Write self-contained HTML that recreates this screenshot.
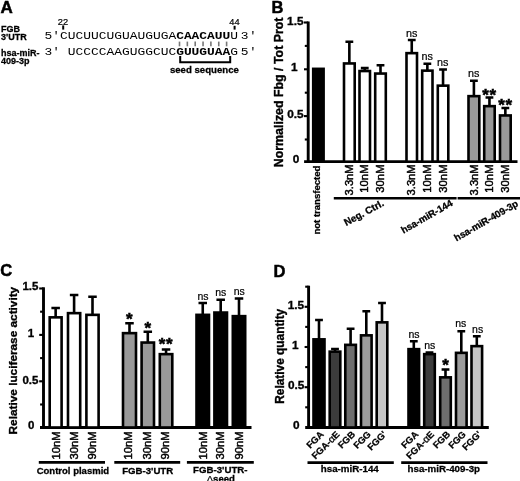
<!DOCTYPE html>
<html><head><meta charset="utf-8"><title>Figure</title>
<style>
html,body{margin:0;padding:0;background:#fff;}
body{width:520px;height:481px;overflow:hidden;}
svg{display:block;}
text{fill:#000;}
</style></head><body>
<svg width="520" height="481" viewBox="0 0 520 481">
<rect width="520" height="481" fill="#fff"/>
<text x="0.50" y="12.60" font-family='"Liberation Sans", Arial, Helvetica, sans-serif' font-size="17" font-weight="bold" text-anchor="start" stroke="#000" stroke-width="0.51">A</text>
<text x="1.00" y="31.80" font-family='"Liberation Sans", Arial, Helvetica, sans-serif' font-size="9" font-weight="bold" text-anchor="start" stroke="#000" stroke-width="0.27">FGB</text>
<text x="1.00" y="40.10" font-family='"Liberation Sans", Arial, Helvetica, sans-serif' font-size="9" font-weight="bold" text-anchor="start" stroke="#000" stroke-width="0.27">3'UTR</text>
<text x="1.00" y="55.70" font-family='"Liberation Sans", Arial, Helvetica, sans-serif' font-size="9" font-weight="bold" text-anchor="start" stroke="#000" stroke-width="0.27">hsa-miR-</text>
<text x="1.00" y="63.80" font-family='"Liberation Sans", Arial, Helvetica, sans-serif' font-size="9" font-weight="bold" text-anchor="start" stroke="#000" stroke-width="0.27">409-3p</text>
<text x="63.00" y="24.50" font-family='"Liberation Sans", Arial, Helvetica, sans-serif' font-size="9.3" font-weight="normal" text-anchor="middle" stroke="#000" stroke-width="0.2">22</text>
<text x="234.50" y="24.60" font-family='"Liberation Sans", Arial, Helvetica, sans-serif' font-size="9.3" font-weight="normal" text-anchor="middle" stroke="#000" stroke-width="0.2">44</text>
<line x1="63.20" y1="25.40" x2="63.20" y2="29.60" stroke="#000" stroke-width="2"/>
<line x1="234.60" y1="25.80" x2="234.60" y2="29.60" stroke="#000" stroke-width="2"/>
<text transform="translate(44.52 39.1) scale(1.1960 1)" x="0" y="0" font-family='"Liberation Mono", "Courier New", monospace' font-size="10.8" xml:space="preserve" fill="#111">5'CUCUUCUGUAUGUGA<tspan font-weight="bold">CAACAUU</tspan>U</text>
<text transform="translate(240.82 39.1) scale(1.1960 1)" x="0" y="0" font-family='"Liberation Mono", "Courier New", monospace' font-size="10.8" letter-spacing="0.3" xml:space="preserve" fill="#111">3'</text>
<text transform="translate(44.52 55.0) scale(1.1960 1)" x="0" y="0" font-family='"Liberation Mono", "Courier New", monospace' font-size="10.8" xml:space="preserve" fill="#111">3' UCCCCAAGUGGCUC<tspan font-weight="bold">GUUGUAA</tspan>G</text>
<text transform="translate(240.82 55.0) scale(1.1960 1)" x="0" y="0" font-family='"Liberation Mono", "Courier New", monospace' font-size="10.8" letter-spacing="0.3" xml:space="preserve" fill="#111">5'</text>
<line x1="179.50" y1="41.60" x2="179.50" y2="46.30" stroke="#777" stroke-width="1.6"/>
<line x1="187.35" y1="41.60" x2="187.35" y2="46.30" stroke="#777" stroke-width="1.6"/>
<line x1="195.20" y1="41.60" x2="195.20" y2="46.30" stroke="#777" stroke-width="1.6"/>
<line x1="203.05" y1="41.60" x2="203.05" y2="46.30" stroke="#777" stroke-width="1.6"/>
<line x1="210.90" y1="41.60" x2="210.90" y2="46.30" stroke="#777" stroke-width="1.6"/>
<line x1="218.75" y1="41.60" x2="218.75" y2="46.30" stroke="#777" stroke-width="1.6"/>
<line x1="226.60" y1="41.60" x2="226.60" y2="46.30" stroke="#777" stroke-width="1.6"/>
<path d="M180.2 56V62.3H230.2V56" stroke="#000" stroke-width="2" fill="none"/>
<text x="204.40" y="72.70" font-family='"Liberation Sans", Arial, Helvetica, sans-serif' font-size="9.5" font-weight="bold" text-anchor="middle" textLength="69" lengthAdjust="spacingAndGlyphs" stroke="#000" stroke-width="0.28">seed sequence</text>
<text x="271.60" y="12.50" font-family='"Liberation Sans", Arial, Helvetica, sans-serif' font-size="16.5" font-weight="bold" text-anchor="start" stroke="#000" stroke-width="0.49">B</text>
<line x1="308.20" y1="21.50" x2="308.20" y2="163.00" stroke="#000" stroke-width="2.9"/>
<line x1="304.10" y1="161.70" x2="517.50" y2="161.70" stroke="#000" stroke-width="2.8"/>
<line x1="304.00" y1="116.10" x2="308.20" y2="116.10" stroke="#000" stroke-width="2.1"/>
<line x1="304.00" y1="69.30" x2="308.20" y2="69.30" stroke="#000" stroke-width="2.1"/>
<line x1="304.00" y1="22.50" x2="308.20" y2="22.50" stroke="#000" stroke-width="2.1"/>
<line x1="304.80" y1="139.50" x2="308.20" y2="139.50" stroke="#000" stroke-width="2.1"/>
<line x1="304.80" y1="92.70" x2="308.20" y2="92.70" stroke="#000" stroke-width="2.1"/>
<line x1="304.80" y1="45.90" x2="308.20" y2="45.90" stroke="#000" stroke-width="2.1"/>
<text x="303.50" y="24.60" font-family='"Liberation Sans", Arial, Helvetica, sans-serif' font-size="11.8" font-weight="bold" text-anchor="end" stroke="#000" stroke-width="0.35">1.5</text>
<text x="297.60" y="70.90" font-family='"Liberation Sans", Arial, Helvetica, sans-serif' font-size="11.8" font-weight="bold" text-anchor="end" stroke="#000" stroke-width="0.35">1</text>
<text x="303.70" y="117.60" font-family='"Liberation Sans", Arial, Helvetica, sans-serif' font-size="11.8" font-weight="bold" text-anchor="end" stroke="#000" stroke-width="0.35">0.5</text>
<text x="299.30" y="163.40" font-family='"Liberation Sans", Arial, Helvetica, sans-serif' font-size="11.8" font-weight="bold" text-anchor="end" stroke="#000" stroke-width="0.35">0</text>
<text x="283.00" y="167.20" font-family='"Liberation Sans", Arial, Helvetica, sans-serif' font-size="12.4" font-weight="bold" text-anchor="start" transform="rotate(-90 283.00 167.20)" textLength="149.7" lengthAdjust="spacingAndGlyphs" stroke="#000" stroke-width="0.37">Normalized Fbg / Tot Prot</text>
<rect x="313.20" y="68.85" width="10.40" height="92.85" fill="#000" stroke="#000" stroke-width="2.6"/>
<path d="M349.35 63.30V41.70M345.45 41.70H353.25" stroke="#000" stroke-width="2.6" fill="none"/>
<rect x="344.00" y="63.45" width="10.70" height="98.25" fill="#fff" stroke="#000" stroke-width="2.6"/>
<path d="M364.75 70.90V68.10M360.85 68.10H368.65" stroke="#000" stroke-width="2.6" fill="none"/>
<rect x="359.50" y="71.05" width="10.50" height="90.65" fill="#fff" stroke="#000" stroke-width="2.6"/>
<path d="M380.50 73.40V65.30M376.60 65.30H384.40" stroke="#000" stroke-width="2.6" fill="none"/>
<rect x="375.20" y="73.55" width="10.60" height="88.15" fill="#fff" stroke="#000" stroke-width="2.6"/>
<path d="M411.75 53.00V40.00M407.85 40.00H415.65" stroke="#000" stroke-width="2.6" fill="none"/>
<rect x="406.50" y="53.15" width="10.50" height="108.55" fill="#fff" stroke="#000" stroke-width="2.6"/>
<path d="M427.35 70.50V63.70M423.45 63.70H431.25" stroke="#000" stroke-width="2.6" fill="none"/>
<rect x="422.20" y="70.65" width="10.30" height="91.05" fill="#fff" stroke="#000" stroke-width="2.6"/>
<path d="M443.05 85.50V69.50M439.15 69.50H446.95" stroke="#000" stroke-width="2.6" fill="none"/>
<rect x="437.80" y="85.65" width="10.50" height="76.05" fill="#fff" stroke="#000" stroke-width="2.6"/>
<path d="M473.90 96.00V80.70M470.00 80.70H477.80" stroke="#000" stroke-width="2.6" fill="none"/>
<rect x="468.50" y="96.15" width="10.80" height="65.55" fill="#999" stroke="#000" stroke-width="2.6"/>
<path d="M489.45 106.00V97.50M485.55 97.50H493.35" stroke="#000" stroke-width="2.6" fill="none"/>
<rect x="484.20" y="106.15" width="10.50" height="55.55" fill="#999" stroke="#000" stroke-width="2.6"/>
<path d="M505.35 115.30V108.00M501.45 108.00H509.25" stroke="#000" stroke-width="2.6" fill="none"/>
<rect x="500.00" y="115.45" width="10.70" height="46.25" fill="#999" stroke="#000" stroke-width="2.6"/>
<text x="411.60" y="36.50" font-family='"Liberation Sans", Arial, Helvetica, sans-serif' font-size="10.8" font-weight="normal" text-anchor="middle" stroke="#000" stroke-width="0.2">ns</text>
<text x="427.20" y="60.00" font-family='"Liberation Sans", Arial, Helvetica, sans-serif' font-size="10.8" font-weight="normal" text-anchor="middle" stroke="#000" stroke-width="0.2">ns</text>
<text x="442.80" y="66.00" font-family='"Liberation Sans", Arial, Helvetica, sans-serif' font-size="10.8" font-weight="normal" text-anchor="middle" stroke="#000" stroke-width="0.2">ns</text>
<text x="473.80" y="77.30" font-family='"Liberation Sans", Arial, Helvetica, sans-serif' font-size="10.8" font-weight="normal" text-anchor="middle" stroke="#000" stroke-width="0.2">ns</text>
<text x="489.50" y="100.70" font-family='"Liberation Sans", Arial, Helvetica, sans-serif' font-size="17" font-weight="bold" text-anchor="middle" letter-spacing="0.6" stroke="#000" stroke-width="0.51">**</text>
<text x="505.40" y="111.20" font-family='"Liberation Sans", Arial, Helvetica, sans-serif' font-size="17" font-weight="bold" text-anchor="middle" letter-spacing="0.6" stroke="#000" stroke-width="0.51">**</text>
<text x="320.30" y="234.60" font-family='"Liberation Sans", Arial, Helvetica, sans-serif' font-size="9.2" font-weight="bold" text-anchor="start" transform="rotate(-90 320.30 234.60)" textLength="69" lengthAdjust="spacingAndGlyphs" stroke="#000" stroke-width="0.28">not transfected</text>
<text x="353.10" y="164.40" font-family='"Liberation Sans", Arial, Helvetica, sans-serif' font-size="11" font-weight="normal" text-anchor="end" transform="rotate(-90 353.10 164.40)" textLength="31.0" lengthAdjust="spacingAndGlyphs" stroke="#000" stroke-width="0.45">3.3nM</text>
<text x="368.40" y="164.40" font-family='"Liberation Sans", Arial, Helvetica, sans-serif' font-size="11" font-weight="normal" text-anchor="end" transform="rotate(-90 368.40 164.40)" textLength="28.4" lengthAdjust="spacingAndGlyphs" stroke="#000" stroke-width="0.45">10nM</text>
<text x="384.20" y="164.40" font-family='"Liberation Sans", Arial, Helvetica, sans-serif' font-size="11" font-weight="normal" text-anchor="end" transform="rotate(-90 384.20 164.40)" textLength="28.4" lengthAdjust="spacingAndGlyphs" stroke="#000" stroke-width="0.45">30nM</text>
<text x="415.40" y="164.40" font-family='"Liberation Sans", Arial, Helvetica, sans-serif' font-size="11" font-weight="normal" text-anchor="end" transform="rotate(-90 415.40 164.40)" textLength="31.0" lengthAdjust="spacingAndGlyphs" stroke="#000" stroke-width="0.45">3.3nM</text>
<text x="431.00" y="164.40" font-family='"Liberation Sans", Arial, Helvetica, sans-serif' font-size="11" font-weight="normal" text-anchor="end" transform="rotate(-90 431.00 164.40)" textLength="28.4" lengthAdjust="spacingAndGlyphs" stroke="#000" stroke-width="0.45">10nM</text>
<text x="446.70" y="164.40" font-family='"Liberation Sans", Arial, Helvetica, sans-serif' font-size="11" font-weight="normal" text-anchor="end" transform="rotate(-90 446.70 164.40)" textLength="28.4" lengthAdjust="spacingAndGlyphs" stroke="#000" stroke-width="0.45">30nM</text>
<text x="477.60" y="164.40" font-family='"Liberation Sans", Arial, Helvetica, sans-serif' font-size="11" font-weight="normal" text-anchor="end" transform="rotate(-90 477.60 164.40)" textLength="31.0" lengthAdjust="spacingAndGlyphs" stroke="#000" stroke-width="0.45">3.3nM</text>
<text x="493.20" y="164.40" font-family='"Liberation Sans", Arial, Helvetica, sans-serif' font-size="11" font-weight="normal" text-anchor="end" transform="rotate(-90 493.20 164.40)" textLength="28.4" lengthAdjust="spacingAndGlyphs" stroke="#000" stroke-width="0.45">10nM</text>
<text x="509.10" y="164.40" font-family='"Liberation Sans", Arial, Helvetica, sans-serif' font-size="11" font-weight="normal" text-anchor="end" transform="rotate(-90 509.10 164.40)" textLength="28.4" lengthAdjust="spacingAndGlyphs" stroke="#000" stroke-width="0.45">30nM</text>
<line x1="333.80" y1="198.20" x2="456.60" y2="198.20" stroke="#000" stroke-width="2.6"/>
<line x1="457.60" y1="198.20" x2="520.00" y2="198.20" stroke="#000" stroke-width="2.6"/>
<text x="384.60" y="205.30" font-family='"Liberation Sans", Arial, Helvetica, sans-serif' font-size="9.8" font-weight="bold" text-anchor="end" transform="rotate(-28.5 384.60 205.30)" stroke="#000" stroke-width="0.29">Neg. Ctrl.</text>
<text x="453.40" y="205.00" font-family='"Liberation Sans", Arial, Helvetica, sans-serif' font-size="9.7" font-weight="bold" text-anchor="end" transform="rotate(-30 453.40 205.00)" stroke="#000" stroke-width="0.29">hsa-miR-144</text>
<text x="519.00" y="205.50" font-family='"Liberation Sans", Arial, Helvetica, sans-serif' font-size="9.7" font-weight="bold" text-anchor="end" transform="rotate(-30 519.00 205.50)" stroke="#000" stroke-width="0.29">hsa-miR-409-3p</text>
<text x="0.20" y="276.00" font-family='"Liberation Sans", Arial, Helvetica, sans-serif' font-size="16.5" font-weight="bold" text-anchor="start" stroke="#000" stroke-width="0.49">C</text>
<line x1="43.50" y1="287.30" x2="43.50" y2="428.80" stroke="#000" stroke-width="2.9"/>
<line x1="40.00" y1="427.50" x2="251.50" y2="427.50" stroke="#000" stroke-width="2.8"/>
<line x1="39.20" y1="381.30" x2="43.50" y2="381.30" stroke="#000" stroke-width="2.1"/>
<line x1="39.20" y1="334.90" x2="43.50" y2="334.90" stroke="#000" stroke-width="2.1"/>
<line x1="39.20" y1="288.50" x2="43.50" y2="288.50" stroke="#000" stroke-width="2.1"/>
<line x1="40.10" y1="404.50" x2="43.50" y2="404.50" stroke="#000" stroke-width="2.1"/>
<line x1="40.10" y1="358.10" x2="43.50" y2="358.10" stroke="#000" stroke-width="2.1"/>
<line x1="40.10" y1="311.70" x2="43.50" y2="311.70" stroke="#000" stroke-width="2.1"/>
<text x="38.40" y="290.00" font-family='"Liberation Sans", Arial, Helvetica, sans-serif' font-size="11.5" font-weight="bold" text-anchor="end" stroke="#000" stroke-width="0.34">1.5</text>
<text x="34.20" y="336.90" font-family='"Liberation Sans", Arial, Helvetica, sans-serif' font-size="11.5" font-weight="bold" text-anchor="end" stroke="#000" stroke-width="0.34">1</text>
<text x="38.40" y="383.60" font-family='"Liberation Sans", Arial, Helvetica, sans-serif' font-size="11.5" font-weight="bold" text-anchor="end" stroke="#000" stroke-width="0.34">0.5</text>
<text x="34.30" y="428.80" font-family='"Liberation Sans", Arial, Helvetica, sans-serif' font-size="11.5" font-weight="bold" text-anchor="end" stroke="#000" stroke-width="0.34">0</text>
<text x="17.40" y="434.40" font-family='"Liberation Sans", Arial, Helvetica, sans-serif' font-size="11.8" font-weight="bold" text-anchor="start" transform="rotate(-90 17.40 434.40)" textLength="147.6" lengthAdjust="spacingAndGlyphs" stroke="#000" stroke-width="0.35">Relative luciferase activity</text>
<path d="M55.65 317.20V308.00M51.40 308.00H59.90" stroke="#000" stroke-width="2.6" fill="none"/>
<rect x="49.70" y="317.35" width="11.90" height="110.15" fill="#fff" stroke="#000" stroke-width="2.6"/>
<path d="M74.10 313.00V295.00M69.85 295.00H78.35" stroke="#000" stroke-width="2.6" fill="none"/>
<rect x="68.00" y="313.15" width="12.20" height="114.35" fill="#fff" stroke="#000" stroke-width="2.6"/>
<path d="M92.50 314.70V296.70M88.25 296.70H96.75" stroke="#000" stroke-width="2.6" fill="none"/>
<rect x="86.40" y="314.85" width="12.20" height="112.65" fill="#fff" stroke="#000" stroke-width="2.6"/>
<path d="M129.50 333.00V323.30M125.25 323.30H133.75" stroke="#000" stroke-width="2.6" fill="none"/>
<rect x="123.00" y="333.15" width="13.00" height="94.35" fill="#999" stroke="#000" stroke-width="2.6"/>
<path d="M147.80 342.40V331.70M143.55 331.70H152.05" stroke="#000" stroke-width="2.6" fill="none"/>
<rect x="141.60" y="342.55" width="12.40" height="84.95" fill="#999" stroke="#000" stroke-width="2.6"/>
<path d="M166.05 354.00V349.50M161.80 349.50H170.30" stroke="#000" stroke-width="2.6" fill="none"/>
<rect x="159.80" y="354.15" width="12.50" height="73.35" fill="#999" stroke="#000" stroke-width="2.6"/>
<path d="M202.75 314.70V303.00M198.50 303.00H207.00" stroke="#000" stroke-width="2.6" fill="none"/>
<rect x="196.50" y="314.85" width="12.50" height="112.65" fill="#000" stroke="#000" stroke-width="2.6"/>
<path d="M220.70 312.40V299.70M216.45 299.70H224.95" stroke="#000" stroke-width="2.6" fill="none"/>
<rect x="214.40" y="312.55" width="12.60" height="114.95" fill="#000" stroke="#000" stroke-width="2.6"/>
<path d="M239.00 316.00V298.50M234.75 298.50H243.25" stroke="#000" stroke-width="2.6" fill="none"/>
<rect x="232.80" y="316.15" width="12.40" height="111.35" fill="#000" stroke="#000" stroke-width="2.6"/>
<text x="129.40" y="324.80" font-family='"Liberation Sans", Arial, Helvetica, sans-serif' font-size="17" font-weight="bold" text-anchor="middle" stroke="#000" stroke-width="0.51">*</text>
<text x="147.80" y="333.50" font-family='"Liberation Sans", Arial, Helvetica, sans-serif' font-size="17" font-weight="bold" text-anchor="middle" stroke="#000" stroke-width="0.51">*</text>
<text x="166.00" y="349.60" font-family='"Liberation Sans", Arial, Helvetica, sans-serif' font-size="17" font-weight="bold" text-anchor="middle" letter-spacing="0.6" stroke="#000" stroke-width="0.51">**</text>
<text x="203.00" y="299.70" font-family='"Liberation Sans", Arial, Helvetica, sans-serif' font-size="10.5" font-weight="normal" text-anchor="middle" stroke="#000" stroke-width="0.2">ns</text>
<text x="220.80" y="295.60" font-family='"Liberation Sans", Arial, Helvetica, sans-serif' font-size="10.5" font-weight="normal" text-anchor="middle" stroke="#000" stroke-width="0.2">ns</text>
<text x="239.20" y="295.30" font-family='"Liberation Sans", Arial, Helvetica, sans-serif' font-size="10.5" font-weight="normal" text-anchor="middle" stroke="#000" stroke-width="0.2">ns</text>
<text x="60.00" y="431.40" font-family='"Liberation Sans", Arial, Helvetica, sans-serif' font-size="11.4" font-weight="normal" text-anchor="end" transform="rotate(-90 60.00 431.40)" textLength="28.0" lengthAdjust="spacingAndGlyphs" stroke="#000" stroke-width="0.45">10nM</text>
<text x="78.10" y="431.40" font-family='"Liberation Sans", Arial, Helvetica, sans-serif' font-size="11.4" font-weight="normal" text-anchor="end" transform="rotate(-90 78.10 431.40)" textLength="28.0" lengthAdjust="spacingAndGlyphs" stroke="#000" stroke-width="0.45">30nM</text>
<text x="96.50" y="431.40" font-family='"Liberation Sans", Arial, Helvetica, sans-serif' font-size="11.4" font-weight="normal" text-anchor="end" transform="rotate(-90 96.50 431.40)" textLength="28.0" lengthAdjust="spacingAndGlyphs" stroke="#000" stroke-width="0.45">90nM</text>
<text x="132.40" y="431.40" font-family='"Liberation Sans", Arial, Helvetica, sans-serif' font-size="11.4" font-weight="normal" text-anchor="end" transform="rotate(-90 132.40 431.40)" textLength="28.0" lengthAdjust="spacingAndGlyphs" stroke="#000" stroke-width="0.45">10nM</text>
<text x="150.80" y="431.40" font-family='"Liberation Sans", Arial, Helvetica, sans-serif' font-size="11.4" font-weight="normal" text-anchor="end" transform="rotate(-90 150.80 431.40)" textLength="28.0" lengthAdjust="spacingAndGlyphs" stroke="#000" stroke-width="0.45">30nM</text>
<text x="169.20" y="431.40" font-family='"Liberation Sans", Arial, Helvetica, sans-serif' font-size="11.4" font-weight="normal" text-anchor="end" transform="rotate(-90 169.20 431.40)" textLength="28.0" lengthAdjust="spacingAndGlyphs" stroke="#000" stroke-width="0.45">90nM</text>
<text x="206.90" y="431.40" font-family='"Liberation Sans", Arial, Helvetica, sans-serif' font-size="11.4" font-weight="normal" text-anchor="end" transform="rotate(-90 206.90 431.40)" textLength="28.0" lengthAdjust="spacingAndGlyphs" stroke="#000" stroke-width="0.45">10nM</text>
<text x="224.40" y="431.40" font-family='"Liberation Sans", Arial, Helvetica, sans-serif' font-size="11.4" font-weight="normal" text-anchor="end" transform="rotate(-90 224.40 431.40)" textLength="28.0" lengthAdjust="spacingAndGlyphs" stroke="#000" stroke-width="0.45">30nM</text>
<text x="242.80" y="431.40" font-family='"Liberation Sans", Arial, Helvetica, sans-serif' font-size="11.4" font-weight="normal" text-anchor="end" transform="rotate(-90 242.80 431.40)" textLength="28.0" lengthAdjust="spacingAndGlyphs" stroke="#000" stroke-width="0.45">90nM</text>
<line x1="38.80" y1="462.30" x2="105.00" y2="462.30" stroke="#000" stroke-width="2.7"/>
<line x1="114.30" y1="462.30" x2="180.20" y2="462.30" stroke="#000" stroke-width="2.7"/>
<line x1="186.90" y1="462.30" x2="253.80" y2="462.30" stroke="#000" stroke-width="2.7"/>
<text x="72.90" y="474.10" font-family='"Liberation Sans", Arial, Helvetica, sans-serif' font-size="9.6" font-weight="bold" text-anchor="middle" textLength="72.4" lengthAdjust="spacingAndGlyphs" stroke="#000" stroke-width="0.29">Control plasmid</text>
<text x="147.70" y="473.90" font-family='"Liberation Sans", Arial, Helvetica, sans-serif' font-size="9.6" font-weight="bold" text-anchor="middle" textLength="51" lengthAdjust="spacingAndGlyphs" stroke="#000" stroke-width="0.29">FGB-3'UTR</text>
<text x="220.30" y="472.80" font-family='"Liberation Sans", Arial, Helvetica, sans-serif' font-size="9.6" font-weight="bold" text-anchor="middle" textLength="54.4" lengthAdjust="spacingAndGlyphs" stroke="#000" stroke-width="0.29">FGB-3'UTR-</text>
<text x="220.80" y="481.60" font-family='"Liberation Sans", Arial, Helvetica, sans-serif' font-size="9.6" font-weight="bold" text-anchor="middle" stroke="#000" stroke-width="0.29"><tspan font-weight="normal" stroke-width="0.15">Δ</tspan>seed</text>
<text x="273.50" y="277.20" font-family='"Liberation Sans", Arial, Helvetica, sans-serif' font-size="16.5" font-weight="bold" text-anchor="start" stroke="#000" stroke-width="0.49">D</text>
<line x1="308.60" y1="285.70" x2="308.60" y2="428.80" stroke="#000" stroke-width="2.9"/>
<line x1="305.20" y1="427.50" x2="488.80" y2="427.50" stroke="#000" stroke-width="2.8"/>
<line x1="304.60" y1="387.20" x2="308.60" y2="387.20" stroke="#000" stroke-width="2.1"/>
<line x1="304.60" y1="347.00" x2="308.60" y2="347.00" stroke="#000" stroke-width="2.1"/>
<line x1="304.60" y1="306.80" x2="308.60" y2="306.80" stroke="#000" stroke-width="2.1"/>
<line x1="305.20" y1="407.30" x2="308.60" y2="407.30" stroke="#000" stroke-width="2.1"/>
<line x1="305.20" y1="367.10" x2="308.60" y2="367.10" stroke="#000" stroke-width="2.1"/>
<line x1="305.20" y1="326.90" x2="308.60" y2="326.90" stroke="#000" stroke-width="2.1"/>
<line x1="305.20" y1="286.70" x2="308.60" y2="286.70" stroke="#000" stroke-width="2.1"/>
<text x="304.10" y="309.20" font-family='"Liberation Sans", Arial, Helvetica, sans-serif' font-size="11.8" font-weight="bold" text-anchor="end" stroke="#000" stroke-width="0.35">1.5</text>
<text x="298.60" y="349.40" font-family='"Liberation Sans", Arial, Helvetica, sans-serif' font-size="11.8" font-weight="bold" text-anchor="end" stroke="#000" stroke-width="0.35">1</text>
<text x="304.30" y="389.40" font-family='"Liberation Sans", Arial, Helvetica, sans-serif' font-size="11.8" font-weight="bold" text-anchor="end" stroke="#000" stroke-width="0.35">0.5</text>
<text x="299.60" y="429.30" font-family='"Liberation Sans", Arial, Helvetica, sans-serif' font-size="11.8" font-weight="bold" text-anchor="end" stroke="#000" stroke-width="0.35">0</text>
<text x="284.00" y="403.80" font-family='"Liberation Sans", Arial, Helvetica, sans-serif' font-size="12.2" font-weight="bold" text-anchor="start" transform="rotate(-90 284.00 403.80)" textLength="95" lengthAdjust="spacingAndGlyphs" stroke="#000" stroke-width="0.37">Relative quantity</text>
<path d="M319.00 339.20V320.00M315.10 320.00H322.90" stroke="#000" stroke-width="2.6" fill="none"/>
<rect x="313.50" y="339.35" width="11.00" height="88.15" fill="#000" stroke="#000" stroke-width="2.6"/>
<path d="M335.00 351.50V349.00M331.10 349.00H338.90" stroke="#000" stroke-width="2.6" fill="none"/>
<rect x="329.70" y="351.65" width="10.60" height="75.85" fill="#3c3c3c" stroke="#000" stroke-width="2.6"/>
<path d="M350.60 344.70V328.70M346.70 328.70H354.50" stroke="#000" stroke-width="2.6" fill="none"/>
<rect x="345.30" y="344.85" width="10.60" height="82.65" fill="#6e6e6e" stroke="#000" stroke-width="2.6"/>
<path d="M366.30 335.20V311.20M362.40 311.20H370.20" stroke="#000" stroke-width="2.6" fill="none"/>
<rect x="361.00" y="335.35" width="10.60" height="92.15" fill="#9c9c9c" stroke="#000" stroke-width="2.6"/>
<path d="M382.00 322.20V303.00M378.10 303.00H385.90" stroke="#000" stroke-width="2.6" fill="none"/>
<rect x="376.70" y="322.35" width="10.60" height="105.15" fill="#c6c6c6" stroke="#000" stroke-width="2.6"/>
<path d="M413.80 349.00V341.20M409.90 341.20H417.70" stroke="#000" stroke-width="2.6" fill="none"/>
<rect x="408.50" y="349.15" width="10.60" height="78.35" fill="#000" stroke="#000" stroke-width="2.6"/>
<path d="M429.50 354.00V352.50M425.60 352.50H433.40" stroke="#000" stroke-width="2.6" fill="none"/>
<rect x="424.20" y="354.15" width="10.60" height="73.35" fill="#3c3c3c" stroke="#000" stroke-width="2.6"/>
<path d="M445.50 377.20V369.50M441.60 369.50H449.40" stroke="#000" stroke-width="2.6" fill="none"/>
<rect x="440.20" y="377.35" width="10.60" height="50.15" fill="#6e6e6e" stroke="#000" stroke-width="2.6"/>
<path d="M461.30 352.70V331.20M457.40 331.20H465.20" stroke="#000" stroke-width="2.6" fill="none"/>
<rect x="456.00" y="352.85" width="10.60" height="74.65" fill="#9c9c9c" stroke="#000" stroke-width="2.6"/>
<path d="M476.80 346.00V336.20M472.90 336.20H480.70" stroke="#000" stroke-width="2.6" fill="none"/>
<rect x="471.50" y="346.15" width="10.60" height="81.35" fill="#c6c6c6" stroke="#000" stroke-width="2.6"/>
<text x="414.00" y="337.50" font-family='"Liberation Sans", Arial, Helvetica, sans-serif' font-size="10.5" font-weight="normal" text-anchor="middle" stroke="#000" stroke-width="0.2">ns</text>
<text x="429.70" y="348.70" font-family='"Liberation Sans", Arial, Helvetica, sans-serif' font-size="10.5" font-weight="normal" text-anchor="middle" stroke="#000" stroke-width="0.2">ns</text>
<text x="445.60" y="371.10" font-family='"Liberation Sans", Arial, Helvetica, sans-serif' font-size="17" font-weight="bold" text-anchor="middle" stroke="#000" stroke-width="0.51">*</text>
<text x="460.70" y="326.70" font-family='"Liberation Sans", Arial, Helvetica, sans-serif' font-size="10.5" font-weight="normal" text-anchor="middle" stroke="#000" stroke-width="0.2">ns</text>
<text x="477.60" y="333.00" font-family='"Liberation Sans", Arial, Helvetica, sans-serif' font-size="10.5" font-weight="normal" text-anchor="middle" stroke="#000" stroke-width="0.2">ns</text>
<text x="324.20" y="435.00" font-family='"Liberation Sans", Arial, Helvetica, sans-serif' font-size="9.4" font-weight="bold" text-anchor="end" transform="rotate(-45 324.20 435.00)" stroke="#000" stroke-width="0.28">FGA</text>
<text x="340.20" y="435.00" font-family='"Liberation Sans", Arial, Helvetica, sans-serif' font-size="9.4" font-weight="bold" text-anchor="end" transform="rotate(-45 340.20 435.00)" stroke="#000" stroke-width="0.28">FGA-<tspan font-weight="normal" font-size="10">α</tspan>E</text>
<text x="355.80" y="435.00" font-family='"Liberation Sans", Arial, Helvetica, sans-serif' font-size="9.4" font-weight="bold" text-anchor="end" transform="rotate(-45 355.80 435.00)" stroke="#000" stroke-width="0.28">FGB</text>
<text x="371.50" y="435.00" font-family='"Liberation Sans", Arial, Helvetica, sans-serif' font-size="9.4" font-weight="bold" text-anchor="end" transform="rotate(-45 371.50 435.00)" stroke="#000" stroke-width="0.28">FGG</text>
<text x="387.20" y="435.00" font-family='"Liberation Sans", Arial, Helvetica, sans-serif' font-size="9.4" font-weight="bold" text-anchor="end" transform="rotate(-45 387.20 435.00)" stroke="#000" stroke-width="0.28">FGG'</text>
<text x="419.00" y="435.00" font-family='"Liberation Sans", Arial, Helvetica, sans-serif' font-size="9.4" font-weight="bold" text-anchor="end" transform="rotate(-45 419.00 435.00)" stroke="#000" stroke-width="0.28">FGA</text>
<text x="434.70" y="435.00" font-family='"Liberation Sans", Arial, Helvetica, sans-serif' font-size="9.4" font-weight="bold" text-anchor="end" transform="rotate(-45 434.70 435.00)" stroke="#000" stroke-width="0.28">FGA-<tspan font-weight="normal" font-size="10">α</tspan>E</text>
<text x="450.70" y="435.00" font-family='"Liberation Sans", Arial, Helvetica, sans-serif' font-size="9.4" font-weight="bold" text-anchor="end" transform="rotate(-45 450.70 435.00)" stroke="#000" stroke-width="0.28">FGB</text>
<text x="466.50" y="435.00" font-family='"Liberation Sans", Arial, Helvetica, sans-serif' font-size="9.4" font-weight="bold" text-anchor="end" transform="rotate(-45 466.50 435.00)" stroke="#000" stroke-width="0.28">FGG</text>
<text x="482.00" y="435.00" font-family='"Liberation Sans", Arial, Helvetica, sans-serif' font-size="9.4" font-weight="bold" text-anchor="end" transform="rotate(-45 482.00 435.00)" stroke="#000" stroke-width="0.28">FGG'</text>
<line x1="307.50" y1="462.60" x2="393.80" y2="462.60" stroke="#000" stroke-width="2.6"/>
<line x1="401.20" y1="462.60" x2="487.50" y2="462.60" stroke="#000" stroke-width="2.6"/>
<text x="349.80" y="472.30" font-family='"Liberation Sans", Arial, Helvetica, sans-serif' font-size="9.5" font-weight="bold" text-anchor="middle" textLength="58" lengthAdjust="spacingAndGlyphs" stroke="#000" stroke-width="0.28">hsa-miR-144</text>
<text x="443.80" y="471.60" font-family='"Liberation Sans", Arial, Helvetica, sans-serif' font-size="9.5" font-weight="bold" text-anchor="middle" textLength="72.5" lengthAdjust="spacingAndGlyphs" stroke="#000" stroke-width="0.28">hsa-miR-409-3p</text>
</svg>
</body></html>
